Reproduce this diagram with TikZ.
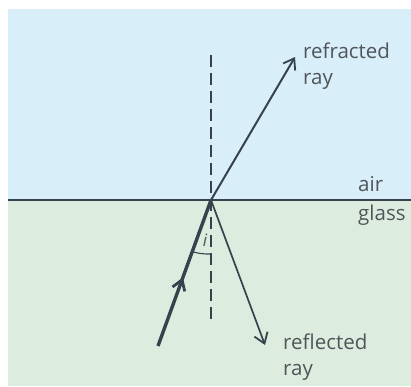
\documentclass[tikz,border=0pt]{standalone}
\usepackage{fontspec}
\setmainfont{Open Sans}
\usetikzlibrary{arrows.meta,decorations.markings,calc}
\definecolor{airblue}{HTML}{D8EEF9}
\definecolor{glassgreen}{HTML}{DCEDE0}
\definecolor{raycol}{HTML}{36434C}
\definecolor{txtcol}{HTML}{4F5559}
\tikzset{
  lbl/.style={text=txtcol, font=\fontsize{20.5}{26}\selectfont, inner sep=0pt, anchor=base west},
  ray/.style={draw=raycol, line width=2pt},
  thickray/.style={draw=raycol, line width=3.4pt},
  normalline/.style={draw=raycol, line width=1.5pt, dash pattern=on 12pt off 6pt},
  opentip/.style={-{Straight Barb[length=10pt,width=14pt,line width=1.8pt]}}
}
\begin{document}
\begin{tikzpicture}[x=1pt,y=-1pt]
\useasboundingbox (0,0) rectangle (411,386);
\fill[airblue] (8,9) rectangle (411,200);
\fill[glassgreen] (8,200) rectangle (411,386);
\coordinate (L) at (8,200);
\coordinate (Rr) at (411,200);
\coordinate (O) at (211,200);
\coordinate (N1) at (211,55);
\coordinate (N2) at (211,322);
\coordinate (A) at (158,346);
\coordinate (R) at (295,57);
\coordinate (F) at (265,345);
\coordinate (P1) at ($(O)!55pt!(A)$);
\coordinate (P2) at ($(O)+(0,54)$);
\draw[draw=raycol, line width=1.8pt] (L) -- (Rr);
\draw[normalline] (N1) -- (N2);
\draw[ray, opentip] (O) -- (R);
\draw[ray, line width=1.7pt, opentip] (O) -- (F);
\draw[thickray, postaction={decorate}, decoration={markings, mark=at position 0.47 with {\arrow{Straight Barb[length=10pt,width=13pt,line width=2.8pt]}}}] (A) -- (O);
\draw[draw=raycol, line width=1.1pt] (P1) to[bend right=8] (P2);
\node[lbl, anchor=center, font=\fontsize{17}{20}\selectfont\itshape] (i) at (205,240) {i};
\node[lbl] (refr1) at (303,58) {refracted};
\node[lbl] (refr2) at (303,84) {ray};
\node[lbl] (air) at (358,191) {air};
\node[lbl] (glass) at (358,220) {glass};
\node[lbl] (refl1) at (283,349) {reflected};
\node[lbl] (refl2) at (283,375) {ray};
\end{tikzpicture}
\end{document}
